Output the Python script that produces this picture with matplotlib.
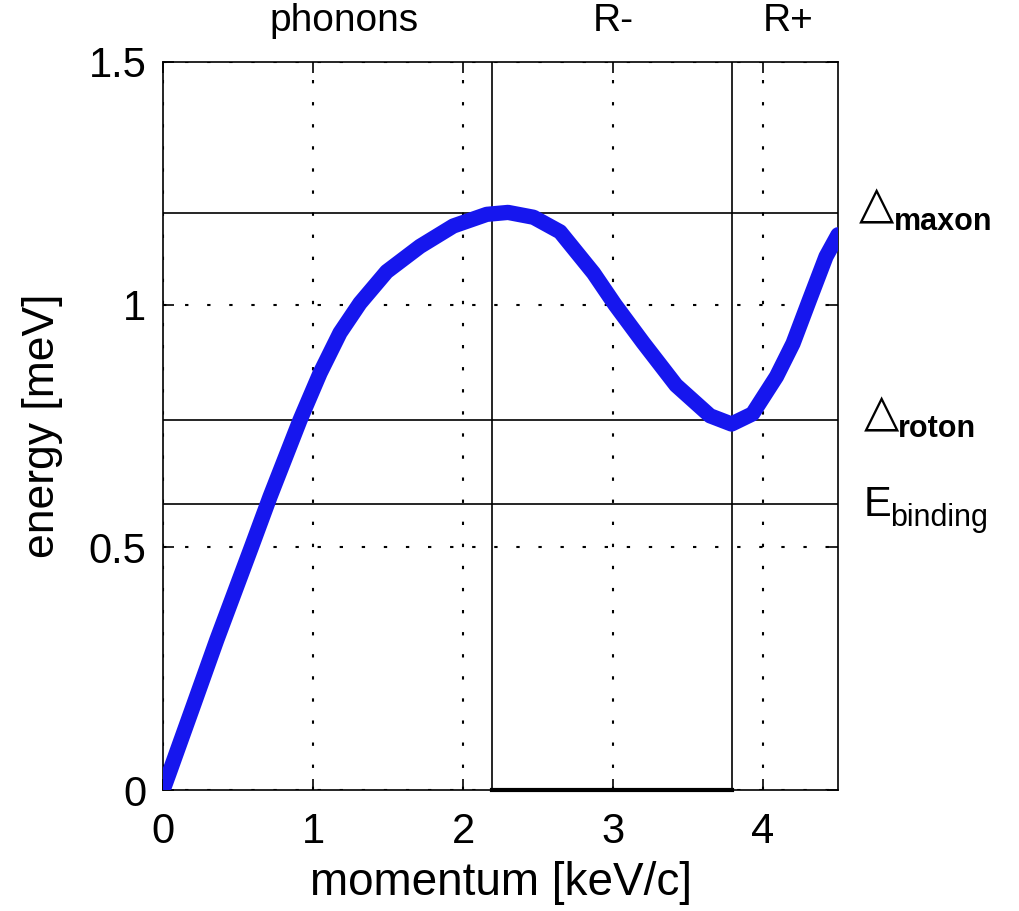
import numpy as np
import matplotlib.pyplot as plt

plt.rcParams['font.family'] = ['Liberation Sans', 'DejaVu Sans']

# curva de dispersion
momento = [0, 0.04, 0.2, 0.358, 0.59, 0.713, 0.913, 1.047, 1.18, 1.313, 1.491,
           1.713, 1.935, 2.158, 2.3, 2.47, 2.647, 2.87, 3.013, 3.2, 3.42, 3.647,
           3.79, 3.93, 4.09, 4.2, 4.31, 4.42, 4.5]
energia = [0, 0.034, 0.172, 0.309, 0.501, 0.604, 0.762, 0.859, 0.942, 1.003, 1.068,
           1.12, 1.162, 1.186, 1.19, 1.18, 1.15, 1.065, 1.0, 0.922, 0.834, 0.771,
           0.754, 0.775, 0.852, 0.92, 1.01, 1.099, 1.144]

e_maxon = 1.189
e_roton = 0.762
e_binding = 0.589
q_maxon = 2.19
q_roton = 3.79

etiquetas_arriba = ['phonons', 'R-', 'R+']
pos_arriba = [1.21, 3.0, 4.17]

fig = plt.figure(figsize=(10.19, 9.11), dpi=100)
ax = fig.add_axes([0.16, 0.1328, 0.6624, 0.7992])

ax.plot(momento, energia, '-', color='#1616ee', lw=11, solid_capstyle='round',
        solid_joinstyle='round', zorder=3)

for e in [e_maxon, e_roton, e_binding]:
    ax.axhline(e, color='black', lw=1.2, zorder=2)
for q in [q_maxon, q_roton]:
    ax.axvline(q, color='black', lw=1.2, zorder=2)
ax.plot([q_maxon, q_roton], [0, 0], color='black', lw=3, zorder=4, clip_on=False)

ax.set_xlim(0, 4.5)
ax.set_ylim(0, 1.5)
ax.set_xticks([0, 1, 2, 3, 4])
ax.set_yticks([0, 0.5, 1, 1.5])
ax.set_yticklabels(['0', '0.5', '1', '1.5'])
ax.grid(True, color='black', linestyle=(0, (1.6, 9)), lw=1.5)
ax.tick_params(direction='in', length=8, width=1.2, top=True, right=True,
               labelsize=30)
ax.tick_params(axis='x', pad=16)
ax.tick_params(axis='y', pad=12)
for s in ax.spines.values():
    s.set_linewidth(1.2)

ax.set_xlabel('momentum [keV/c]', fontsize=33, labelpad=6)
ax.set_ylabel('energy [meV]', fontsize=32, labelpad=18)

for t, p in zip(etiquetas_arriba, pos_arriba):
    ax.text(p, 1.585, t, fontsize=28, ha='center', va='center')

# etiquetas a la derecha
ax.text(4.64, e_maxon - 0.012, '\u25b3', fontsize=33, ha='left', va='baseline',
        family='DejaVu Sans', clip_on=False)
ax.text(4.87, e_maxon - 0.035, 'maxon', fontsize=22, fontweight='bold', ha='left',
        va='baseline', clip_on=False)
ax.text(4.67, e_roton - 0.012, '\u25b3', fontsize=33, ha='left', va='baseline',
        family='DejaVu Sans', clip_on=False)
ax.text(4.90, e_roton - 0.035, 'roton', fontsize=22, fontweight='bold', ha='left',
        va='baseline', clip_on=False)
ax.text(4.67, e_binding - 0.025, 'E', fontsize=30, ha='left', va='baseline', clip_on=False)
ax.text(4.85, e_binding - 0.045, 'binding', fontsize=22, ha='left', va='baseline',
        clip_on=False)

plt.savefig('out.png')
